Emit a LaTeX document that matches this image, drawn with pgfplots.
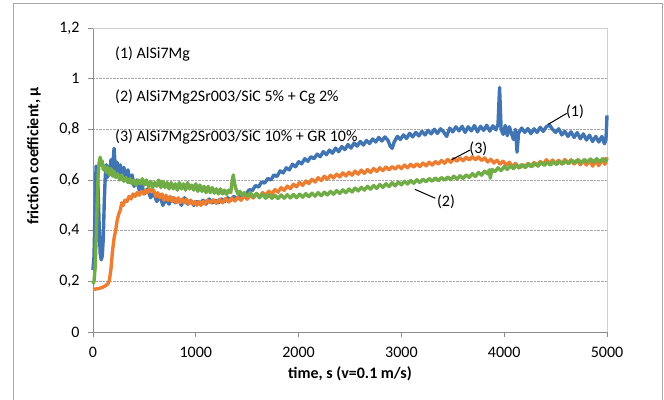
\documentclass[border=0pt]{standalone}
\usepackage{fontspec}
\setmainfont{Carlito}
\usepackage{pgfplots}
\pgfplotsset{compat=1.18}
\definecolor{cblue}{HTML}{4074B2}
\definecolor{corange}{HTML}{ED7D31}
\definecolor{cgreen}{HTML}{70AD47}
\definecolor{axisgray}{HTML}{8C8C8C}
\definecolor{boxgray}{HTML}{D0D0D0}
\definecolor{framegray}{HTML}{A8A8A8}
\newcommand{\txt}{\fontsize{16bp}{19bp}\selectfont}

\pgfplotstableread{
x y
0 0.245
10 0.30
20 0.48
30 0.655
40 0.62
50 0.56
60 0.42
70 0.31
80 0.285
90 0.30
100 0.37
110 0.52
120 0.62
130 0.66
140 0.61
150 0.65
160 0.62
175 0.68
190 0.64
205 0.725
220 0.63
235 0.67
250 0.61
265 0.66
280 0.62
300 0.65
320 0.60
340 0.64
360 0.59
380 0.62
400 0.575
425 0.60
450 0.56
475 0.58
500 0.545
530 0.565
560 0.53
590 0.55
620 0.515
650 0.54
680 0.50
710 0.525
740 0.505
770 0.53
800 0.51
830 0.525
860 0.50
890 0.53
920 0.505
950 0.52
980 0.50
1010 0.515
1040 0.505
1070 0.52
1100 0.505
1130 0.525
1160 0.51
1190 0.52
1220 0.51
1250 0.525
1280 0.515
1310 0.53
1340 0.52
1370 0.535
1400 0.525
1430 0.54
1460 0.535
1490 0.545
1520 0.562
1550 0.558
1580 0.578
1610 0.572
1640 0.592
1670 0.588
1700 0.606
1730 0.60
1760 0.62
1790 0.614
1820 0.636
1850 0.628
1880 0.648
1910 0.64
1940 0.662
1970 0.652
2000 0.672
2030 0.664
2060 0.684
2090 0.674
2120 0.692
2150 0.684
2180 0.702
2210 0.692
2240 0.712
2270 0.70
2300 0.718
2330 0.706
2360 0.726
2390 0.712
2420 0.732
2450 0.72
2480 0.74
2510 0.726
2540 0.746
2570 0.734
2600 0.752
2630 0.738
2660 0.756
2690 0.744
2720 0.762
2750 0.75
2780 0.768
2810 0.754
2840 0.77
2870 0.756
2890 0.735
2910 0.725
2930 0.75
2960 0.772
2990 0.76
3020 0.778
3050 0.764
3080 0.784
3110 0.77
3140 0.788
3170 0.774
3200 0.792
3230 0.778
3260 0.796
3290 0.782
3320 0.80
3350 0.784
3380 0.802
3410 0.79
3440 0.772
3470 0.805
3500 0.79
3530 0.81
3560 0.794
3590 0.812
3620 0.788
3650 0.81
3680 0.794
3710 0.815
3740 0.79
3770 0.812
3800 0.796
3830 0.816
3860 0.793
3890 0.814
3920 0.798
3940 0.82
3955 0.965
3970 0.80
3990 0.78
4010 0.815
4030 0.775
4050 0.81
4070 0.785
4090 0.76
4110 0.80
4125 0.71
4140 0.785
4170 0.805
4200 0.788
4230 0.803
4260 0.783
4290 0.802
4320 0.788
4350 0.808
4380 0.792
4410 0.81
4440 0.818
4470 0.80
4500 0.788
4530 0.802
4560 0.778
4590 0.792
4620 0.772
4650 0.79
4680 0.768
4710 0.787
4740 0.763
4770 0.782
4800 0.758
4830 0.777
4860 0.752
4890 0.772
4920 0.75
4950 0.772
4975 0.743
4990 0.76
5000 0.855
}\seriesone

\pgfplotstableread{
x y
0 0.19
10 0.20
20 0.25
30 0.36
40 0.50
50 0.62
60 0.67
70 0.69
80 0.66
90 0.675
100 0.64
115 0.655
130 0.63
145 0.65
160 0.62
175 0.645
190 0.615
205 0.635
220 0.61
240 0.625
260 0.60
280 0.62
300 0.595
320 0.61
340 0.59
360 0.605
380 0.585
400 0.60
420 0.58
440 0.60
460 0.585
480 0.605
500 0.58
520 0.60
540 0.575
560 0.595
580 0.57
600 0.59
620 0.575
640 0.60
660 0.57
680 0.595
700 0.57
720 0.59
740 0.565
760 0.59
780 0.565
800 0.585
820 0.56
840 0.59
860 0.565
880 0.585
900 0.56
920 0.59
940 0.565
960 0.58
980 0.56
1000 0.585
1020 0.555
1040 0.58
1060 0.555
1080 0.575
1100 0.55
1120 0.575
1140 0.55
1160 0.57
1180 0.548
1200 0.565
1220 0.545
1240 0.565
1260 0.545
1280 0.56
1300 0.543
1320 0.56
1340 0.55
1355 0.60
1365 0.62
1375 0.59
1390 0.565
1410 0.545
1430 0.555
1450 0.54
1470 0.55
1500 0.536
1530 0.55
1560 0.533
1590 0.547
1620 0.53
1650 0.544
1680 0.528
1710 0.542
1740 0.528
1770 0.54
1800 0.527
1830 0.541
1860 0.528
1890 0.542
1920 0.529
1950 0.543
1980 0.53
2010 0.544
2040 0.532
2070 0.546
2100 0.534
2130 0.548
2160 0.536
2190 0.55
2220 0.538
2250 0.552
2280 0.541
2310 0.555
2340 0.544
2370 0.558
2400 0.547
2430 0.561
2460 0.55
2490 0.564
2520 0.553
2550 0.568
2580 0.557
2610 0.571
2640 0.56
2670 0.575
2700 0.564
2730 0.578
2760 0.567
2790 0.582
2820 0.571
2850 0.585
2880 0.574
2910 0.589
2940 0.577
2970 0.592
3000 0.581
3030 0.595
3060 0.584
3090 0.598
3120 0.587
3150 0.601
3180 0.59
3210 0.603
3240 0.593
3270 0.606
3300 0.595
3330 0.608
3360 0.597
3390 0.61
3420 0.599
3450 0.612
3480 0.601
3510 0.615
3540 0.603
3570 0.617
3600 0.606
3630 0.62
3660 0.61
3690 0.625
3720 0.614
3750 0.63
3780 0.619
3810 0.635
3840 0.624
3855 0.64
3865 0.607
3880 0.642
3910 0.633
3940 0.648
3970 0.637
4000 0.653
4030 0.642
4060 0.656
4090 0.645
4120 0.659
4150 0.648
4180 0.661
4210 0.65
4240 0.664
4270 0.653
4300 0.666
4330 0.655
4360 0.669
4390 0.658
4420 0.67
4450 0.659
4480 0.672
4510 0.661
4540 0.674
4570 0.663
4600 0.676
4630 0.665
4660 0.678
4690 0.667
4720 0.68
4750 0.668
4780 0.681
4810 0.67
4840 0.683
4870 0.671
4900 0.684
4930 0.672
4960 0.685
4990 0.674
5000 0.683
}\seriestwo

\pgfplotstableread{
x y
0 0.168
30 0.17
60 0.172
90 0.176
120 0.182
145 0.19
160 0.205
175 0.25
190 0.32
205 0.37
220 0.40
235 0.44
250 0.465
265 0.48
280 0.51
295 0.50
310 0.52
330 0.515
350 0.535
370 0.525
390 0.545
410 0.535
430 0.55
450 0.54
470 0.555
490 0.545
510 0.56
530 0.55
550 0.565
570 0.555
590 0.56
610 0.535
630 0.55
650 0.53
670 0.545
690 0.52
710 0.54
730 0.52
750 0.535
770 0.515
790 0.53
810 0.51
830 0.53
850 0.51
870 0.525
890 0.51
910 0.525
930 0.505
950 0.52
970 0.505
990 0.515
1010 0.50
1030 0.515
1050 0.50
1070 0.515
1090 0.505
1110 0.52
1140 0.51
1170 0.522
1200 0.508
1230 0.524
1260 0.51
1290 0.527
1320 0.513
1350 0.529
1380 0.517
1410 0.532
1440 0.52
1470 0.537
1500 0.524
1530 0.54
1560 0.529
1590 0.545
1620 0.534
1650 0.55
1680 0.54
1710 0.556
1740 0.545
1770 0.562
1800 0.552
1830 0.57
1860 0.559
1890 0.576
1920 0.566
1950 0.583
1980 0.573
2010 0.59
2040 0.579
2070 0.596
2100 0.586
2130 0.603
2160 0.592
2190 0.609
2220 0.598
2250 0.615
2280 0.603
2310 0.619
2340 0.608
2370 0.623
2400 0.612
2430 0.628
2460 0.616
2490 0.631
2520 0.619
2550 0.635
2580 0.623
2610 0.639
2640 0.626
2670 0.641
2700 0.63
2730 0.645
2760 0.634
2790 0.648
2820 0.637
2850 0.651
2880 0.64
2910 0.653
2940 0.643
2970 0.656
3000 0.645
3030 0.659
3060 0.648
3090 0.662
3120 0.651
3150 0.664
3180 0.653
3210 0.667
3240 0.656
3270 0.67
3300 0.659
3330 0.673
3360 0.663
3390 0.677
3420 0.666
3450 0.681
3480 0.67
3510 0.685
3540 0.674
3570 0.687
3600 0.676
3630 0.69
3660 0.679
3690 0.692
3720 0.68
3750 0.691
3780 0.677
3810 0.687
3840 0.671
3870 0.682
3900 0.667
3930 0.678
3960 0.663
3990 0.674
4020 0.659
4050 0.67
4080 0.654
4110 0.665
4140 0.648
4170 0.661
4200 0.65
4230 0.665
4260 0.653
4290 0.669
4320 0.657
4350 0.673
4380 0.662
4410 0.68
4440 0.665
4470 0.679
4500 0.664
4530 0.678
4560 0.663
4590 0.681
4620 0.665
4650 0.68
4680 0.663
4710 0.679
4740 0.66
4770 0.677
4800 0.659
4830 0.679
4860 0.655
4890 0.675
4920 0.657
4950 0.68
4980 0.662
5000 0.69
}\seriesthree

\begin{document}
\begin{tikzpicture}
\begin{axis}[
    at={(93bp,68bp)}, anchor=south west,
    scale only axis,
    width=514bp, height=304bp,
    xmin=0, xmax=5000,
    ymin=0, ymax=1.2,
    xtick={0,1000,2000,3000,4000,5000},
    xticklabels={0,1000,2000,3000,4000,5000},
    ytick={0,0.2,0.4,0.6,0.8,1,1.2},
    yticklabels={0,{0,2},{0,4},{0,6},{0,8},1,{1,2}},
    axis x line*=bottom, axis y line*=left,
    axis line style={draw=axisgray, line width=0.8bp},
    tick style={draw=axisgray, line width=0.8bp},
    tick align=outside,
    major tick length=5bp,
    ymajorgrids,
    grid style={densely dotted, draw=gray!70, line width=0.6bp},
    ticklabel style={font=\txt, text=black},
    yticklabel style={xshift=-5bp},
    xticklabel style={yshift=-7bp},
    xlabel={\textbf{time, s (v=0.1 m/s)}},
    ylabel={\textbf{friction coefficient, μ}},
    label style={font=\txt},
    xlabel style={at={(axis description cs:0.5,-0.139)}, anchor=center},
    ylabel style={at={(axis description cs:-0.115,0.579)}, anchor=center, rotate=0},
    clip=false,
]
\draw[boxgray, line width=0.8bp] (rel axis cs:0,1) -- (rel axis cs:1,1) -- (rel axis cs:1,0);
\addplot[cblue, line width=3.4bp, line join=round] table {\seriesone};
\addplot[corange, line width=3.4bp, line join=round] table {\seriesthree};
\addplot[cgreen, line width=3.4bp, line join=round] table {\seriestwo};

\node[anchor=west, inner sep=0, font=\txt] at (axis cs:214,1.097) {(1) AlSi7Mg};
\node[anchor=west, inner sep=0, font=\txt] at (axis cs:214,0.928) {(2) AlSi7Mg2Sr003/SiC 5\% + Cg 2\%};
\node[anchor=west, inner sep=0, font=\txt] at (axis cs:214,0.770) {(3) AlSi7Mg2Sr003/SiC 10\% + GR 10\%};

\draw[black, line width=1bp] (axis cs:4429,0.820) -- (axis cs:4608,0.863);
\node[anchor=west, inner sep=0, font=\txt] at (axis cs:4600,0.868) {(1)};
\draw[black, line width=1bp] (axis cs:3489,0.680) -- (axis cs:3667,0.718);
\node[anchor=west, inner sep=0, font=\txt] at (axis cs:3660,0.722) {(3)};
\draw[black, line width=1bp] (axis cs:3132,0.563) -- (axis cs:3330,0.528);
\node[anchor=west, inner sep=0, font=\txt] at (axis cs:3345,0.513) {(2)};
\end{axis}
\draw[framegray, line width=1bp] (13bp,-5bp) -- (13bp,396bp) -- (662bp,396bp) -- (662bp,-5bp);
\pgfresetboundingbox
\path[use as bounding box] (0,0) rectangle (664bp,400bp);
\end{tikzpicture}
\end{document}
